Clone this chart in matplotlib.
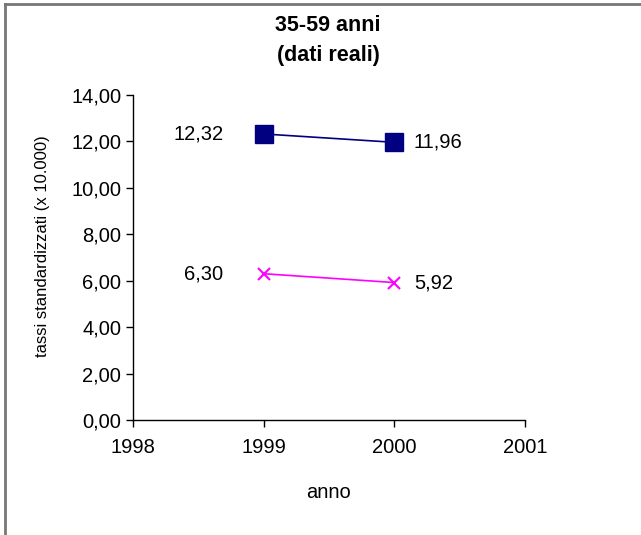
import matplotlib.pyplot as plt
from matplotlib.lines import Line2D

plt.rcParams['font.family'] = ['Liberation Sans', 'DejaVu Sans']

anni = [1999, 2000]
serie_blu = [12.32, 11.96]
serie_rosa = [6.30, 5.92]
yticks = [0, 2, 4, 6, 8, 10, 12, 14]
xticks = [1998, 1999, 2000, 2001]


def fmt(v):
    return f"{v:.2f}".replace(".", ",")


fig = plt.figure(figsize=(6.41, 5.35), dpi=100)
ax = fig.add_axes([0.2075, 0.215, 0.6115, 0.6075])

ax.plot(anni, serie_blu, color="#000080", lw=1.2, marker="s", markersize=13,
        markerfacecolor="#000080", markeredgecolor="#000080", clip_on=False)
ax.plot(anni, serie_rosa, color="#ff00ff", lw=1.2, marker="x", markersize=9,
        markeredgewidth=1.5, clip_on=False)

for serie in (serie_blu, serie_rosa):
    ax.annotate(fmt(serie[0]), (anni[0], serie[0]), xytext=(-29, 0),
                textcoords="offset points", ha="right", va="center", fontsize=14.5)
    ax.annotate(fmt(serie[1]), (anni[1], serie[1]), xytext=(14, 0),
                textcoords="offset points", ha="left", va="center", fontsize=14.5)

ax.set_xlim(1998, 2001)
ax.set_ylim(0, 14)
ax.set_xticks(xticks)
ax.set_yticks(yticks)
ax.set_yticklabels([fmt(v) for v in yticks])
ax.tick_params(labelsize=14.5, length=5, width=1, direction="out", colors="black")
ax.tick_params(axis="x", pad=8)
for s in ("top", "right"):
    ax.spines[s].set_visible(False)
for s in ("left", "bottom"):
    ax.spines[s].set_linewidth(1)

fig.text(0.512, 0.953, "35-59 anni", ha="center", va="center", fontsize=15.5, fontweight="bold")
fig.text(0.512, 0.897, "(dati reali)", ha="center", va="center", fontsize=15.5, fontweight="bold")
fig.text(0.512, 0.080, "anno", ha="center", va="center", fontsize=14.5)
fig.text(0.066, 0.540, "tassi standardizzati (x 10.000)", ha="center", va="center",
         rotation=90, fontsize=12)

# cornice parziale (lato sinistro e superiore)
fig.add_artist(Line2D([0.008, 0.008], [0, 0.993], color="#777777", lw=2))
fig.add_artist(Line2D([0.008, 1], [0.993, 0.993], color="#777777", lw=2))

fig.savefig("out.png", dpi=100)
